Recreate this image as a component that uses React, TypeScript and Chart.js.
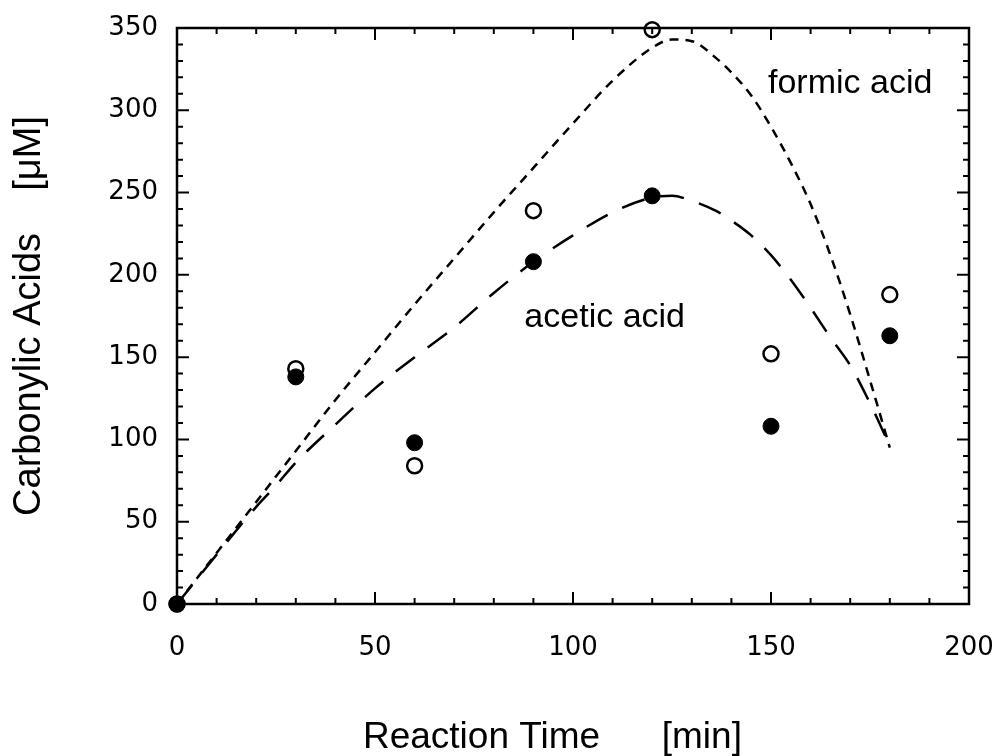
import React, { useEffect, useRef } from "react";
import { Chart, registerables } from "chart.js";

Chart.register(...registerables);

// Measured samples (reaction time in min)
const sampleTimes = [0, 30, 60, 90, 120, 150, 180];
const formicMeasured = [0, 143, 84, 239, 349, 152, 188];
const aceticMeasured = [0, 138, 98, 208, 248, 108, 163];

// Fitted (dashed) curves
const formicFitTimes = [0, 10, 20, 30, 40, 50, 60, 70, 80, 90, 100, 110, 120, 125, 130, 136, 140, 145, 150, 155, 160, 165, 170, 175, 180];
const formicFitValues = [0, 31, 62, 93, 124, 153, 182, 210, 238, 265, 292, 318, 338, 343, 342, 332, 323, 309, 290, 268, 243, 212, 176, 136, 95];
const aceticFitTimes = [0, 10, 20, 25, 30, 40, 50, 60, 70, 80, 90, 100, 110, 120, 125, 130, 136, 140, 145, 150, 155, 160, 165, 170, 175, 180];
const aceticFitValues = [0, 30, 59, 72, 86, 109, 131, 150, 168, 189, 208, 224, 238, 247, 248, 245, 239, 233, 224, 212, 197, 180, 162, 145, 122, 96];

// Axis ranges / ticks
const xRange = [0, 200];
const yRange = [0, 350];
const majorStep = 50;
const minorStep = 10;

// Curve labels
const curveLabels = ["formic acid", "acetic acid"];
const curveLabelTimes = [170, 108];
const curveLabelValues = [316, 174];

const toPoints = (xs: number[], ys: number[]) => xs.map((x, i) => ({ x, y: ys[i] }));

const framePlugin = {
  id: "frameTicks",
  afterDatasetsDraw(chart: any) {
    const { ctx, chartArea, scales } = chart;
    const { left, right, top, bottom } = chartArea;
    const xs = scales.x;
    const ys = scales.y;
    ctx.save();
    ctx.strokeStyle = "#000";
    ctx.lineCap = "butt";
    ctx.lineWidth = 2.5;
    ctx.strokeRect(left, top, right - left, bottom - top);
    ctx.lineWidth = 2;
    ctx.beginPath();
    for (let v = xRange[0]; v <= xRange[1]; v += minorStep) {
      const px = xs.getPixelForValue(v);
      const len = v % majorStep === 0 ? 12 : 6;
      ctx.moveTo(px, bottom);
      ctx.lineTo(px, bottom - len);
      ctx.moveTo(px, top);
      ctx.lineTo(px, top + len);
    }
    for (let v = yRange[0]; v <= yRange[1]; v += minorStep) {
      const py = ys.getPixelForValue(v);
      const len = v % majorStep === 0 ? 12 : 6;
      ctx.moveTo(left, py);
      ctx.lineTo(left + len, py);
      ctx.moveTo(right, py);
      ctx.lineTo(right - len, py);
    }
    ctx.stroke();

    ctx.fillStyle = "#000";
    ctx.font = '34px "Liberation Sans", Arial, sans-serif';
    ctx.textAlign = "center";
    ctx.textBaseline = "middle";
    curveLabels.forEach((t, i) => {
      ctx.fillText(t, xs.getPixelForValue(curveLabelTimes[i]), ys.getPixelForValue(curveLabelValues[i]));
    });
    ctx.restore();
  },
};

export default function App() {
  const canvasRef = useRef<HTMLCanvasElement | null>(null);

  useEffect(() => {
    const canvas = canvasRef.current;
    if (!canvas) return;
    const chart = new Chart(canvas, {
      type: "scatter",
      data: {
        datasets: [
          {
            label: "acetic acid (measured)",
            data: toPoints(sampleTimes, aceticMeasured),
            showLine: false,
            pointRadius: 8,
            pointBorderWidth: 1,
            pointBackgroundColor: "#000",
            pointBorderColor: "#000",
            order: 0,
            clip: false,
          },
          {
            label: "formic acid (measured)",
            data: toPoints(sampleTimes, formicMeasured),
            showLine: false,
            pointRadius: 7.5,
            pointBorderWidth: 2.5,
            pointBackgroundColor: "rgba(255,255,255,0)",
            pointBorderColor: "#000",
            order: 1,
            clip: false,
          },
          {
            label: "formic acid (fit)",
            data: toPoints(formicFitTimes, formicFitValues),
            showLine: true,
            pointRadius: 0,
            borderColor: "#000",
            borderWidth: 2.5,
            borderDash: [9, 7],
            cubicInterpolationMode: "monotone",
            order: 2,
            clip: false,
          },
          {
            label: "acetic acid (fit)",
            data: toPoints(aceticFitTimes, aceticFitValues),
            showLine: true,
            pointRadius: 0,
            borderColor: "#000",
            borderWidth: 2.5,
            borderDash: [24, 16],
            cubicInterpolationMode: "monotone",
            order: 3,
            clip: false,
          },
        ] as any,
      },
      options: {
        responsive: false,
        animation: false,
        layout: { padding: { top: 28, right: 26, left: 0, bottom: 0 } },
        plugins: {
          legend: { display: false },
          tooltip: { enabled: false },
        },
        scales: {
          x: {
            type: "linear",
            position: "bottom",
            min: xRange[0],
            max: xRange[1],
            afterFit: (s: any) => {
              s.height = 152;
            },
            grid: { display: false, drawTicks: true, tickLength: 29 },
            border: { display: false },
            ticks: {
              stepSize: majorStep,
              padding: 0,
              color: "#000",
              font: { family: '"DejaVu Sans", sans-serif', size: 26 },
            },
            title: {
              display: true,
              text: "Reaction Time      [min]    ",
              color: "#000",
              font: { family: '"Liberation Sans", Arial, sans-serif', size: 37 },
              padding: { top: 0, bottom: -4 },
            },
          },
          y: {
            type: "linear",
            position: "left",
            min: yRange[0],
            max: yRange[1],
            afterFit: (s: any) => {
              s.width = 177;
            },
            grid: { display: false, drawTicks: true, tickLength: 19 },
            border: { display: false },
            ticks: {
              stepSize: majorStep,
              padding: 0,
              color: "#000",
              font: { family: '"DejaVu Sans", sans-serif', size: 26 },
            },
            title: {
              display: true,
              text: "Carbonylic Acids    [μM]",
              color: "#000",
              font: { family: '"Liberation Sans", Arial, sans-serif', size: 38 },
              padding: { top: 7, bottom: 0 },
            },
          },
        },
      } as any,
      plugins: [framePlugin],
    });
    return () => chart.destroy();
  }, []);

  return (
    <div style={{ position: "absolute", left: 0, top: 0, width: 995, height: 756, background: "#fff" }}>
      <canvas ref={canvasRef} width={995} height={756} style={{ display: "block" }} />
    </div>
  );
}
